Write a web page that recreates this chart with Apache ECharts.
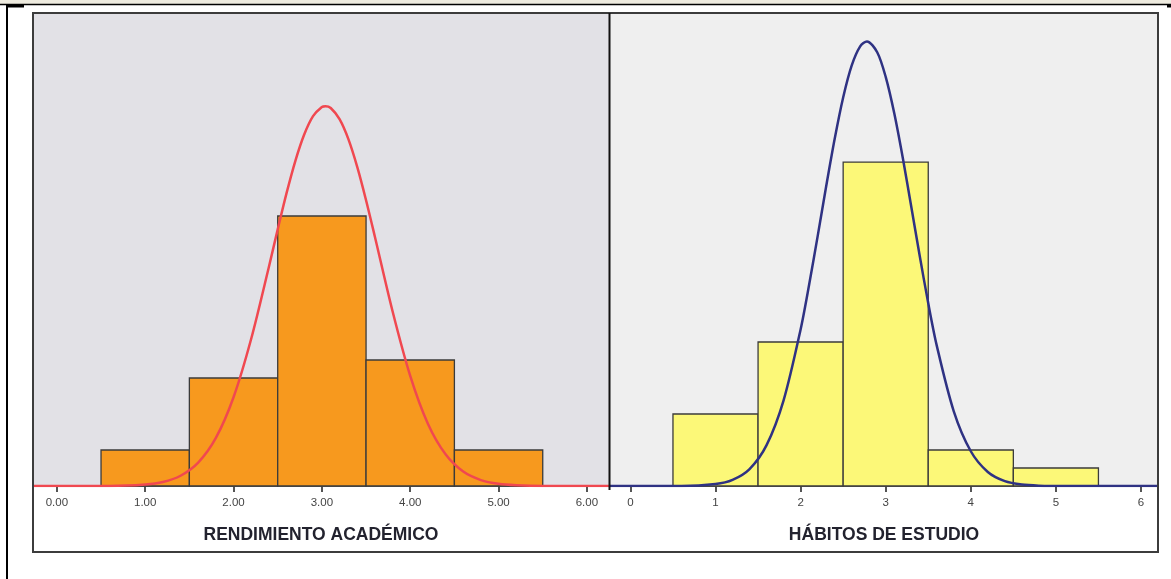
<!DOCTYPE html>
<html><head><meta charset="utf-8">
<script src="https://cdn.jsdelivr.net/npm/echarts@6/dist/echarts.min.js"></script>
<style>html,body{margin:0;padding:0;background:#fff;overflow:hidden}#c{width:1171px;height:579px}</style>
</head><body><div id="c"></div>
<script>
// ---- data ----
const binEdges = [0.5, 1.5, 2.5, 3.5, 4.5, 5.5];
const rendimientoCounts = [2, 6, 15, 7, 2];
const habitosCounts = [4, 8, 18, 2, 1];
const rendimientoTicks = [0, 1, 2, 3, 4, 5, 6];
const habitosTicks = [0, 1, 2, 3, 4, 5, 6];
const rendimientoTitle = 'RENDIMIENTO ACADÉMICO';
const habitosTitle = 'HÁBITOS DE ESTUDIO';
// normal curve points (x, height in counts)
const rendimientoCurve = [
  [-0.27, 0], [0.6, 0], [1.0, 0.08], [1.2, 0.22], [1.4, 0.57], [1.6, 1.30], [1.8, 2.67],
  [2.0, 4.93], [2.2, 8.18], [2.4, 12.17], [2.5, 14.26], [2.6, 16.27], [2.7, 18.07],
  [2.8, 19.53], [2.9, 20.55], [3.0, 21.06], [3.04, 21.1], [3.1, 21.0], [3.2, 20.38],
  [3.3, 19.27], [3.4, 17.73], [3.5, 15.88], [3.6, 13.85], [3.8, 9.71], [4.0, 6.12],
  [4.2, 3.46], [4.4, 1.76], [4.6, 0.80], [4.8, 0.33], [5.0, 0.12], [5.2, 0.04],
  [5.5, 0], [6.25, 0]
];
const habitosCurve = [
  [-0.24, 0], [0.6, 0], [1.0, 0.11], [1.2, 0.34], [1.4, 0.94], [1.6, 2.27], [1.8, 4.76],
  [2.0, 8.70], [2.1, 11.18], [2.2, 13.87], [2.3, 16.64], [2.4, 19.28], [2.5, 21.59],
  [2.6, 23.36], [2.7, 24.43], [2.78, 24.7], [2.9, 24.10], [3.0, 22.73], [3.1, 20.72],
  [3.2, 18.25], [3.3, 15.53], [3.4, 12.78], [3.5, 10.15], [3.6, 7.80], [3.8, 4.15],
  [4.0, 1.93], [4.2, 0.78], [4.4, 0.27], [4.6, 0.08], [4.8, 0.02], [5.1, 0], [6.2, 0]
];

// ---- layout ----
const G1 = {left: 33, top: 13, width: 576, height: 473};
const G2 = {left: 610, top: 13, width: 548, height: 473};
const yMax = 26.28;

function binData(counts) {
  return counts.map((c, i) => [binEdges[i], binEdges[i + 1], c]);
}
function barRender(params, api) {
  const p0 = api.coord([api.value(0), 0]);
  const p1 = api.coord([api.value(1), api.value(2)]);
  return {
    type: 'rect',
    shape: {x: p0[0], y: p1[1], width: p1[0] - p0[0], height: p0[1] - p1[1]},
    style: {fill: api.visual('color'), stroke: '#3b3b3b', lineWidth: 1.3}
  };
}
function xAxisDef(idx, min, max, ticks, fmt, title) {
  return {
    type: 'value', gridIndex: idx, min: min, max: max,
    splitLine: {show: false},
    axisLine: {show: true, onZero: false, lineStyle: {color: '#3a3a3a', width: 1.5}},
    axisTick: {show: true, customValues: ticks, length: 6, lineStyle: {color: '#555', width: 2}},
    axisLabel: {customValues: ticks, formatter: fmt, color: '#444', fontSize: 11.5,
      fontFamily: 'Liberation Sans, Arial, sans-serif', margin: 11},
    name: title, nameLocation: 'middle', nameGap: 40,
    nameTextStyle: {fontSize: 17.5, fontWeight: 'bold', color: '#22222e',
      fontFamily: 'Liberation Sans, Arial, sans-serif'}
  };
}

const chart = echarts.init(document.getElementById('c'), null, {renderer: 'canvas'});
chart.setOption({
  animation: false,
  grid: [
    Object.assign({show: true, backgroundColor: '#e2e1e6', borderWidth: 0}, G1),
    Object.assign({show: true, backgroundColor: '#efefef', borderWidth: 0}, G2)
  ],
  xAxis: [
    xAxisDef(0, -0.27, 6.25, rendimientoTicks, v => v.toFixed(2), rendimientoTitle),
    xAxisDef(1, -0.24, 6.2, habitosTicks, v => String(v), habitosTitle)
  ],
  yAxis: [
    {type: 'value', gridIndex: 0, min: 0, max: yMax, show: false},
    {type: 'value', gridIndex: 1, min: 0, max: yMax, show: false}
  ],
  series: [
    {type: 'custom', xAxisIndex: 0, yAxisIndex: 0, renderItem: barRender,
      itemStyle: {color: '#f7991e'}, encode: {x: [0, 1], y: 2}, data: binData(rendimientoCounts), z: 2},
    {type: 'custom', xAxisIndex: 1, yAxisIndex: 1, renderItem: barRender,
      itemStyle: {color: '#fcf878'}, encode: {x: [0, 1], y: 2}, data: binData(habitosCounts), z: 2},
    {type: 'line', xAxisIndex: 0, yAxisIndex: 0, data: rendimientoCurve, showSymbol: false,
      smooth: 0.3, lineStyle: {color: '#f04850', width: 2.5}, z: 5},
    {type: 'line', xAxisIndex: 1, yAxisIndex: 1, data: habitosCurve, showSymbol: false,
      smooth: 0.3, lineStyle: {color: '#2f3283', width: 2.5}, z: 5}
  ],
  graphic: [
    // page decorations
    {type: 'rect', shape: {x: 0, y: 0, width: 1171, height: 4}, style: {fill: '#eeebdf'}, z: 100},
    {type: 'line', shape: {x1: 0, y1: 4.5, x2: 1171, y2: 4.5}, style: {stroke: '#000', lineWidth: 1.5}, z: 100},
    {type: 'line', shape: {x1: 7, y1: 4, x2: 7, y2: 579}, style: {stroke: '#000', lineWidth: 2}, z: 100},
    {type: 'line', shape: {x1: 7, y1: 6, x2: 24, y2: 6}, style: {stroke: '#000', lineWidth: 3}, z: 100},
    {type: 'line', shape: {x1: 1167, y1: 6, x2: 1171, y2: 6}, style: {stroke: '#000', lineWidth: 3}, z: 100},
    // chart frame
    {type: 'rect', shape: {x: 33, y: 13, width: 1125, height: 539},
      style: {fill: 'none', stroke: '#3c3c3c', lineWidth: 2}, z: 100},
    {type: 'line', shape: {x1: 609.5, y1: 13, x2: 609.5, y2: 490}, style: {stroke: '#111', lineWidth: 2}, z: 100}
  ]
});
</script></body></html>
